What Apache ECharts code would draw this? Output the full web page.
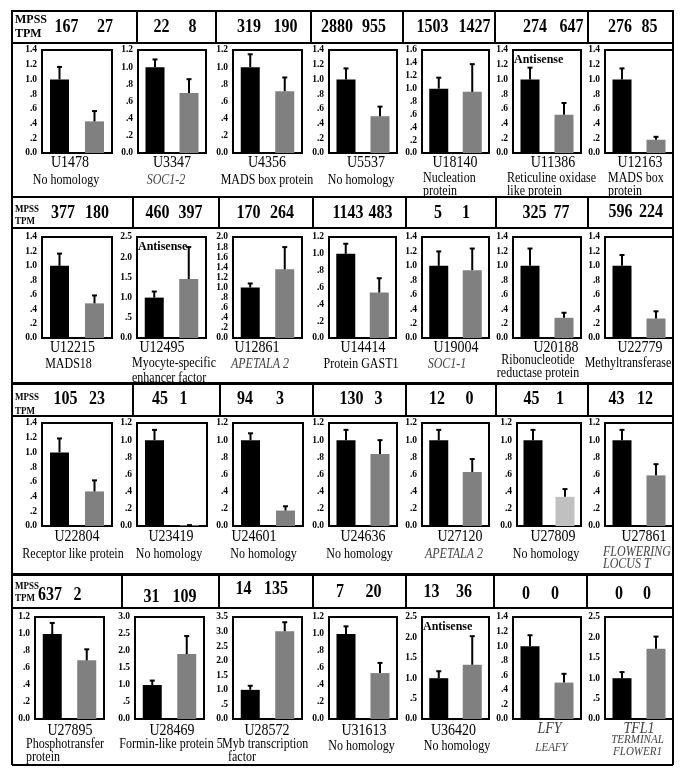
<!DOCTYPE html>
<html><head><meta charset="utf-8">
<script src="https://cdn.jsdelivr.net/npm/echarts@6/dist/echarts.min.js"></script>
<style>html,body{margin:0;padding:0;background:#fff}#c{width:685px;height:774px}</style>
</head><body><div id="c"></div>
<script>
// ---------------- DATA ----------------
const geneIds = [
  ['U1478','U3347','U4356','U5537','U18140','U11386','U12163'],
  ['U12215','U12495','U12861','U14414','U19004','U20188','U22779'],
  ['U22804','U23419','U24601','U24636','U27120','U27809','U27861'],
  ['U27895','U28469','U28572','U31613','U36420','LFY','TFL1']
];
const geneDescs = [
  ['No homology','SOC1-2','MADS box protein','No homology','Nucleation\nprotein','Reticuline oxidase\nlike protein','MADS box\nprotein'],
  ['MADS18','Myocyte-specific\nenhancer factor','APETALA 2','Protein GAST1','SOC1-1','Ribonucleotide\nreductase protein','Methyltransferase'],
  ['Receptor like protein','No homology','No homology','No homology','APETALA 2','No homology','FLOWERING\nLOCUS T'],
  ['Phosphotransfer\nprotein','Formin-like protein 5','Myb transcription\n  factor','No homology','No homology','LEAFY','TERMINAL\nFLOWER1']
];
const mpssControl = [
  [167,22,319,2880,1503,274,276],
  [377,460,170,1143,5,325,596],
  [105,45,94,130,12,45,43],
  [637,31,14,7,13,0,0]
];
const mpssTransgenic = [
  [27,8,190,955,1427,647,85],
  [180,397,264,483,1,77,224],
  [23,1,3,3,0,1,12],
  [2,109,135,20,36,0,0]
];
const controlMean = [
  [1.0,1.0,1.0,1.0,1.0,1.0,1.0],
  [1.0,1.0,1.0,1.0,1.0,1.0,1.0],
  [1.0,1.0,1.0,1.0,1.0,1.0,1.0],
  [1.0,1.0,1.0,1.0,1.0,1.0,1.0]
];
const controlErrTop = [
  [1.17,1.09,1.15,1.15,1.17,1.16,1.15],
  [1.17,1.15,1.08,1.12,1.20,1.24,1.15],
  [1.19,1.12,1.08,1.12,1.12,1.12,1.12],
  [1.13,1.13,1.14,1.09,1.17,1.15,1.15]
];
const transMean = [
  [0.43,0.70,0.72,0.50,0.95,0.52,0.18],
  [0.48,1.46,1.36,0.54,0.94,0.28,0.27],
  [0.47,0.01,0.18,0.84,0.63,0.34,0.59],
  [0.69,1.91,3.01,0.54,1.33,0.50,1.72]
];
const transErrTop = [
  [0.57,0.86,0.88,0.63,1.38,0.68,0.22],
  [0.59,2.25,1.80,0.71,1.24,0.35,0.37],
  [0.62,0.01,0.23,1.00,0.78,0.43,0.72],
  [0.82,2.44,3.32,0.66,2.03,0.62,2.02]
];
const yMax = [
  [1.4,1.2,1.2,1.4,1.6,1.4,1.4],
  [1.4,2.5,2.0,1.2,1.4,1.4,1.4],
  [1.4,1.2,1.2,1.2,1.2,1.2,1.2],
  [1.2,3.0,3.5,1.2,2.5,1.4,2.5]
];
const yStep = [
  [0.2,0.2,0.2,0.2,0.2,0.2,0.2],
  [0.2,0.5,0.2,0.2,0.2,0.2,0.2],
  [0.2,0.2,0.2,0.2,0.2,0.2,0.2],
  [0.2,0.5,0.5,0.2,0.5,0.2,0.5]
];
const categories = ['Control','Transgenic'];
const antisensePanels = [[0,5],[1,1],[3,4]];
const italicPanels = [[0,1],[1,2],[1,4],[2,4],[2,6],[3,5],[3,6]];
const italicIds = [[3,5],[3,6]];

// ---------------- LAYOUT ----------------
const ROWS = [
  {hTop:11,hBot:43,bBot:197,divs:[137,216,311,403,495,588],
   boxTop:50,boxH:103,boxL:[42,138,233,329,422,513,605],boxW:[70,68,69,68,67,68,68],
   idX:[70,172,267,366,455,553,640],idY:[162,162,162,162,162,162,162],
   descX:[66,166,267,361,423,507,608],descAlign:['center','center','center','center','left','left','left'],
   descY:[[180],[180],[180],[180],[178,191],[178,191],[178,191]],
   numL:[66.5,161.5,249,337,432.5,535,620],numR:[105,192.5,285.5,374,474.5,571.5,649.5],
   numY:[27,27,27,27,27,27,27],mpssY:[20,33.5],mpssSize:12},
  {hTop:197,hBot:228,bBot:383,divs:[133,219,313,406,496,588],
   boxTop:237,boxH:101,boxL:[42,137,233,329,422,513,605],boxW:[70,69,69,67,67,68,68],
   idX:[72.5,162,257,363,456,556,640],idY:[347,347,347,347,347,347,347],
   descX:[68.5,132,260,361,447,538,628],descAlign:['center','left','center','center','center','center','center'],
   descY:[[364],[363,378],[364],[364],[364],[360,373],[363]],
   numL:[63,157.5,248.5,348,438,534.5,620.5],numR:[97,190.5,282,380.5,466,561.5,651],
   numY:[213,213,213,213,213,213,212],mpssY:[209.5,221.5],mpssSize:9},
  {hTop:384,hBot:416,bBot:574,divs:[133,220,313,406,496,588],
   boxTop:423,boxH:103,boxL:[42,137,233,329,422,517,605],boxW:[70,70,70,68,67,64,68],
   idX:[77,171,254,363,460,553,644],idY:[536,536,536,536,536,536,536],
   descX:[73,169,263.5,359.5,454,546,603],descAlign:['center','center','center','center','center','center','left'],
   descY:[[554],[554],[554],[554],[554],[554],[552,564]],
   numL:[65.5,160,245,351.5,437,531.5,616.5],numR:[97,183.5,280,378.5,469.5,560,645],
   numY:[399,399,399,399,399,399,399],mpssY:[397,411],mpssSize:9},
  {hTop:575,hBot:608,bBot:765,divs:[122,219,313,406,494,587],
   boxTop:617,boxH:102,boxL:[35,135,233,329,422,513,605],boxW:[69,69,69,68,67,68,68],
   idX:[70,172,267,364,453.5,549.5,639],idY:[730,730,730,730,730,728,728],
   descX:[26,171,222,361.5,457,551.5,637.5],descAlign:['left','center','left','center','center','center','center'],
   descY:[[744,757],[744],[744,757],[746],[746],[748],[740,752]],
   numL:[50,151.5,243.5,340,431.5,526,619],numR:[77.5,184.5,276,373.5,464,555,647],
   numY:[595,597,589,592,592,594,594],mpssY:[586,598.5],mpssSize:9}
];
const LEFT = 12, RIGHT = 673;
const SERIF = '"Liberation Serif","Times New Roman",Times,serif';
const GRAY = '#808080', LIGHTGRAY = '#c0c0c0', ITALIC_COLOR = '#444';
const lightBars = [[2,5]];

function inList(list, r, c){ return list.some(p => p[0]===r && p[1]===c); }
function fmt(v){
  if (Math.abs(v) < 1e-9) return '0.0';
  if (v < 0.999) return '.' + Math.round(v*10);
  return v.toFixed(1);
}
function txt(text, x, y, opts){
  opts = opts || {};
  const align = opts.align || 'center';
  return {type:'text', z:10, silent:true, x: x, y: y, scaleY: opts.sy || 1, style:{
    text: text, x: 0, y: 0,
    fill: opts.color || '#000',
    fontFamily: SERIF, fontSize: opts.size || 13,
    fontWeight: opts.bold ? 'bold' : 'normal',
    fontStyle: opts.italic ? 'italic' : 'normal',
    align: align, textAlign: align,
    verticalAlign: 'middle', textVerticalAlign: 'middle'
  }};
}
function line(x1,y1,x2,y2,w){
  return {type:'line', z:5, silent:true, shape:{x1,y1,x2,y2}, style:{stroke:'#000', lineWidth:w||2}};
}

const grids=[], xAxes=[], yAxes=[], series=[], graphics=[];

ROWS.forEach((R, r) => {
  graphics.push({type:'rect', z:5, silent:true, shape:{x:LEFT, y:R.hTop, width:RIGHT-LEFT, height:R.hBot-R.hTop},
                 style:{fill:'none', stroke:'#000', lineWidth:2}});
  R.divs.forEach(x => graphics.push(line(x, R.hTop, x, R.hBot, 2)));
  graphics.push(line(LEFT, R.hBot, LEFT, R.bBot, 2));
  graphics.push(line(RIGHT, R.hBot, RIGHT, R.bBot, 2));
  graphics.push(line(LEFT, R.bBot, RIGHT, R.bBot, 2));
  graphics.push(txt('MPSS', 15, R.mpssY[0], {align:'left', bold:true, size:R.mpssSize, sy:1.1}));
  graphics.push(txt('TPM', 15, R.mpssY[1], {align:'left', bold:true, size:R.mpssSize, sy:1.1}));

  for (let c = 0; c < 7; c++) {
    const idx = r*7 + c;
    grids.push({left:R.boxL[c], top:R.boxTop, width:R.boxW[c], height:R.boxH,
                show:true, borderColor:'#000', borderWidth:2, backgroundColor:'transparent'});
    xAxes.push({gridIndex:idx, type:'category', data:categories,
                axisLine:{show:false}, axisTick:{show:false}, axisLabel:{show:false}, splitLine:{show:false}});
    yAxes.push({gridIndex:idx, type:'value', min:0, max:yMax[r][c], interval:yStep[r][c],
                axisLine:{show:false}, axisTick:{show:false}, splitLine:{show:false},
                axisLabel:{formatter:fmt, fontFamily:SERIF, fontWeight:'bold', fontSize:9.5, color:'#000',
                           margin:5, showMaxLabel:true, showMinLabel:true}});
    const grayColor = inList(lightBars, r, c) ? LIGHTGRAY : GRAY;
    series.push({type:'bar', xAxisIndex:idx, yAxisIndex:idx, barWidth:19, silent:true, animation:false,
      data:[{value:controlMean[r][c], itemStyle:{color:'#000'}},
            {value:transMean[r][c], itemStyle:{color:grayColor}}]});
    series.push({type:'custom', xAxisIndex:idx, yAxisIndex:idx, silent:true, animation:false, z:3,
      encode:{x:0, y:2},
      data:[[0, controlMean[r][c], controlErrTop[r][c]], [1, transMean[r][c], transErrTop[r][c]]],
      renderItem:function(params, api){
        const cat = api.value(0), lo = api.value(1), hi = api.value(2);
        const p0 = api.coord([cat, lo]), p1 = api.coord([cat, hi]);
        return {type:'group', children:[
          {type:'line', shape:{x1:p0[0], y1:p0[1], x2:p0[0], y2:p1[1]}, style:{stroke:'#000', lineWidth:2}},
          {type:'line', shape:{x1:p0[0]-2.5, y1:p1[1], x2:p0[0]+2.5, y2:p1[1]}, style:{stroke:'#000', lineWidth:2}}
        ]};
      }});
    graphics.push(txt(String(mpssControl[r][c]), R.numL[c], R.numY[c], {bold:true, size:16, sy:1.2}));
    graphics.push(txt(String(mpssTransgenic[r][c]), R.numR[c], R.numY[c], {bold:true, size:16, sy:1.2}));
    const idItalic = inList(italicIds, r, c);
    graphics.push(txt(geneIds[r][c], R.idX[c], R.idY[c], {size:14, sy:1.25, italic:idItalic, color: idItalic ? ITALIC_COLOR : '#000'}));
    const it = inList(italicPanels, r, c);
    const small = (r===3 && (c===5 || c===6));
    const lines = geneDescs[r][c].split('\n');
    lines.forEach((ln, i) => {
      graphics.push(txt(ln, R.descX[c], R.descY[c][i], {align:R.descAlign[c], size: small ? 11 : 12, sy:1.15,
        italic:it, color: it ? ITALIC_COLOR : '#000'}));
    });
    if (inList(antisensePanels, r, c)) {
      graphics.push(txt('Antisense', R.boxL[c] + 1, R.boxTop + 10, {align:'left', bold:true, size:12, sy:1.1}));
    }
  }
});

const chart = echarts.init(document.getElementById('c'), null, {renderer:'canvas'});
chart.setOption({
  animation:false,
  backgroundColor:'#fff',
  grid:grids, xAxis:xAxes, yAxis:yAxes, series:series,
  graphic:{elements:graphics}
});
</script>
</body></html>
